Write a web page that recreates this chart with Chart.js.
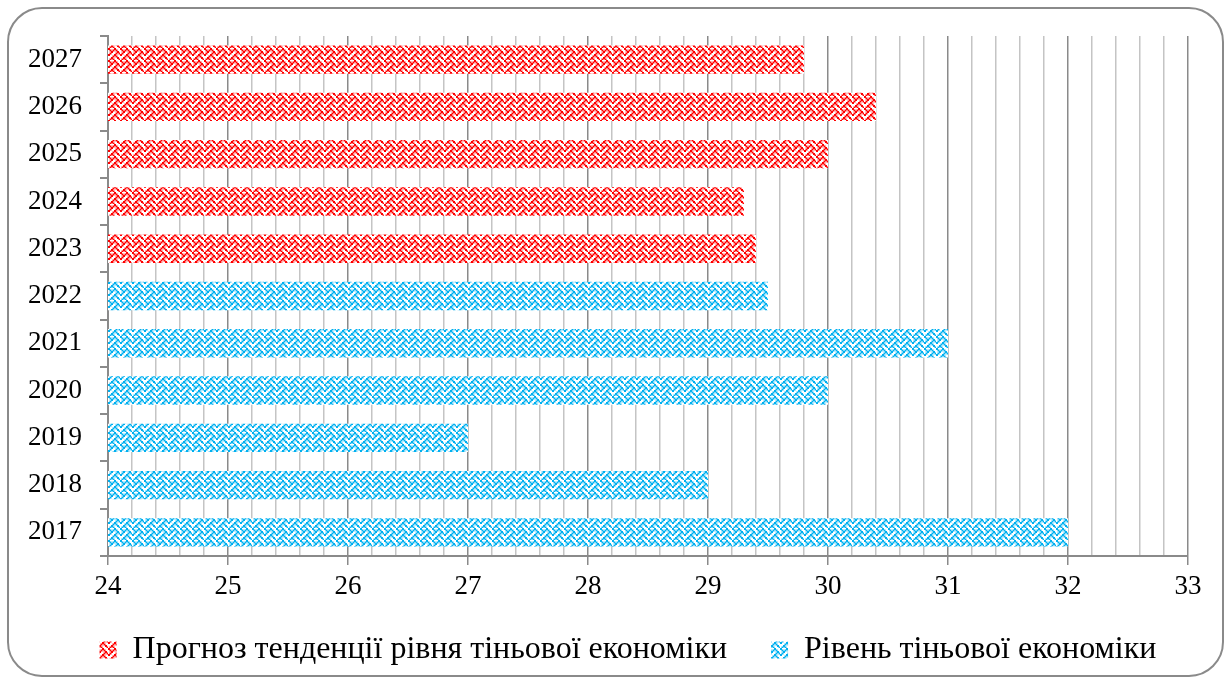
<!DOCTYPE html>
<html>
<head>
<meta charset="utf-8">
<script src="https://cdn.jsdelivr.net/npm/chart.js@4.4.1/dist/chart.umd.min.js"></script>
<style>
  html, body { margin: 0; padding: 0; background: #fff; }
  #wrap { width: 1231px; height: 684px; position: relative; }
</style>
</head>
<body>
<div id="wrap"><canvas id="chart" width="1231" height="684"></canvas></div>
<script>
// Years on the vertical axis
const years = ['2017', '2018', '2019', '2020', '2021', '2022', '2023', '2024', '2025', '2026', '2027'];
// Shadow economy level, % (actual)
const actualLevel = [32.0, 29.0, 27.0, 30.0, 31.0, 29.5, null, null, null, null, null];
// Shadow economy level, % (forecast trend)
const forecastLevel = [null, null, null, null, null, null, 29.4, 29.3, 30.0, 30.4, 29.8];
// Series names
const seriesNames = ['Прогноз тенденції рівня тіньової економіки', 'Рівень тіньової економіки'];
// Value axis range
const axisMin = 24;
const axisMax = 33;

// Weave hatch, 8x8 bits, drawn at 1.5x into a 12px tile
const weaveRows = [0x88, 0x54, 0x22, 0x45, 0x88, 0x14, 0x22, 0x51];
function weavePattern(color) {
  const tile = document.createElement('canvas');
  tile.width = 12; tile.height = 12;
  const t = tile.getContext('2d');
  t.fillStyle = '#ffffff';
  t.fillRect(0, 0, 12, 12);
  t.fillStyle = color;
  weaveRows.forEach((bits, r) => {
    for (let c = 0; c < 8; c++) {
      if (bits & (0x80 >> c)) t.fillRect(c * 1.5, r * 1.5, 2, 2);
    }
  });
  return t.createPattern(tile, 'repeat');
}
const redWeave = weavePattern('#ff0000');
const blueWeave = weavePattern('#00b0f0');

const isMajor = v => Math.abs(v - Math.round(v)) < 1e-6;

// Rounded frame around the whole chart
const framePlugin = {
  id: 'frame',
  beforeDraw(chart) {
    const ctx = chart.ctx;
    ctx.save();
    ctx.fillStyle = '#ffffff';
    ctx.fillRect(0, 0, chart.width, chart.height);
    ctx.beginPath();
    ctx.roundRect(8, 8, chart.width - 16, chart.height - 16, 34);
    ctx.lineWidth = 2;
    ctx.strokeStyle = '#8a8a8a';
    ctx.stroke();
    ctx.restore();
  }
};

// Centre the legend row on the whole canvas rather than on the padded area
const legendShiftPlugin = {
  id: 'legendShift',
  afterLayout(chart) {
    const lg = chart.legend;
    if (lg) { lg.left += 34; lg.right += 34; }
  }
};

new Chart(document.getElementById('chart'), {
  type: 'bar',
  data: {
    labels: years,
    datasets: [
      {
        label: seriesNames[0],
        data: forecastLevel,
        backgroundColor: redWeave,
        borderWidth: 0,
        grouped: false,
        barPercentage: 0.6,
        categoryPercentage: 1
      },
      {
        label: seriesNames[1],
        data: actualLevel,
        backgroundColor: blueWeave,
        borderWidth: 0,
        grouped: false,
        barPercentage: 0.6,
        categoryPercentage: 1
      }
    ]
  },
  options: {
    indexAxis: 'y',
    responsive: false,
    animation: false,
    layout: { padding: { left: 0, right: 43, top: 36, bottom: 8 } },
    scales: {
      x: {
        type: 'linear',
        min: axisMin,
        max: axisMax,
        afterFit(scale) { scale.height = 66; },
        ticks: {
          stepSize: 0.2,
          autoSkip: false,
          maxRotation: 0,
          padding: 6,
          color: '#000',
          font: { family: 'Liberation Serif', size: 27 },
          callback: v => isMajor(v) ? String(Math.round(v)) : ''
        },
        grid: {
          lineWidth: 1.5,
          color: ctx => isMajor(ctx.tick.value) ? '#8a8a8a' : '#c4c4c4',
          tickColor: ctx => isMajor(ctx.tick.value) ? '#8a8a8a' : 'rgba(0,0,0,0)',
          tickLength: 9,
          drawTicks: true
        },
        border: { color: '#8a8a8a', width: 2 }
      },
      y: {
        reverse: true,
        afterFit(scale) { scale.width = 108; },
        ticks: {
          padding: 18,
          color: '#000',
          font: { family: 'Liberation Serif', size: 27 }
        },
        grid: {
          drawOnChartArea: false,
          drawTicks: true,
          tickLength: 8,
          color: '#8a8a8a',
          lineWidth: 2
        },
        border: { color: '#8a8a8a', width: 2 }
      }
    },
    plugins: {
      legend: {
        position: 'bottom',
        labels: {
          boxWidth: 17,
          boxHeight: 17,
          padding: 12,
          color: '#000',
          font: { family: 'Liberation Serif', size: 32 },
          generateLabels(chart) {
            const items = Chart.defaults.plugins.legend.labels.generateLabels(chart);
            // wider gap after the first entry
            if (items.length) items[0].text = items[0].text + '\u2003';
            return items;
          }
        }
      },
      tooltip: { enabled: false }
    }
  },
  plugins: [framePlugin, legendShiftPlugin]
});
</script>
</body>
</html>
